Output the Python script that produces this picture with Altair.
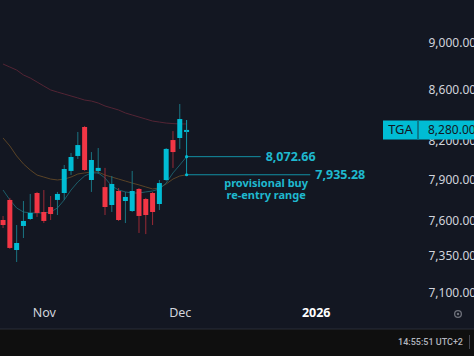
import altair as alt
import pandas as pd

# ---------------- data ----------------
idx = list(range(28))
opens  = [7602, 7748, 7389, 7559, 7609, 7799, 7660, 7696, 7748, 7799, 7964, 8078, 8303, 7896,
          7964, 7843, 7711, 7814, 7740, 7667, 7829, 7755, 7799, 7718, 7896, 8201, 8217, 8264]
highs  = [7631, 7763, 7566, 7740, 7792, 7807, 7821, 7777, 7807, 8009, 8101, 8264, 8311, 8108,
          8139, 7987, 7926, 7836, 7807, 7964, 7836, 7763, 7807, 7896, 8139, 8271, 8486, 8358]
lows   = [7544, 7396, 7305, 7473, 7602, 7624, 7580, 7602, 7638, 7748, 7934, 8055, 7964, 7807,
          7941, 7638, 7660, 7595, 7580, 7660, 7509, 7501, 7566, 7674, 7888, 7987, 8132, 8248]
closes = [7566, 7403, 7438, 7595, 7653, 7653, 7595, 7645, 7792, 7979, 8070, 8162, 7971, 8047,
          7987, 7696, 7866, 7602, 7770, 7814, 7631, 7638, 7660, 7873, 8132, 8108, 8366, 8280]

ma_long  = [8814, 8789, 8764, 8723, 8698, 8665, 8632, 8600, 8583, 8567, 8551, 8535, 8518, 8510,
            8494, 8470, 8454, 8438, 8414, 8398, 8382, 8366, 8350, 8342, 8334, 8330, 8327, 8327]
ma_mid   = [8217, 8155, 8078, 8017, 7971, 7933, 7918, 7903, 7896, 7903, 7918, 7941, 7949, 7956,
            7956, 7933, 7918, 7903, 7888, 7873, 7859, 7844, 7829, 7836, 7866, 7903, 7926, 7935.28]
ma_short = [7821, 7748, 7689, 7660, 7653, 7653, 7653, 7660, 7689, 7748, 7821, 7881, 7926, 7949,
            7949, 7911, 7851, 7821, 7807, 7799, 7799, 7807, 7814, 7829, 7873, 7949, 8009, 8072.66]

tick_idx = [6, 26, 46]
tick_labels = ["Nov", "Dec", "2026"]
y_ticks = [7100, 7350, 7600, 7900, 8200, 8600, 9000]

levels = [8072.66, 7935.28]
level_labels = ["8,072.66", "7,935.28"]
level_start = [27, 27]
level_end = [37.9, 45.2]
range_top = 8358
note_lines = ["provisional buy", "re-entry range"]
note_x = [38.7]

symbol = ["TGA"]
last_price = [8280]
last_label = ["8,280.00"]
clock = "14:55:51 UTC+2"

# ---------------- style ----------------
BG = "#131722"
UP, DOWN = "#00bcd4", "#f23645"
UP_WICK, DOWN_WICK = "#1a7482", "#9a2a36"
TXT = "#d1d4dc"
FONT = "Noto Sans"

candles = pd.DataFrame(dict(i=idx, open=opens, high=highs, low=lows, close=closes))
mas = pd.DataFrame(dict(i=idx, long=ma_long, mid=ma_mid, short=ma_short))
lv = pd.DataFrame(dict(level=levels, label=level_labels, start=level_start, end=level_end))
note = pd.DataFrame(dict(x=note_x, level=[levels[1]]))
vert = pd.DataFrame(dict(i=[level_start[0]], top=[range_top], bot=[levels[1]]))
last = pd.DataFrame(dict(sym=symbol, price=last_price, label=last_label))

label_expr = " : ".join(
    f"datum.value == {v} ? '{t}'" for v, t in zip(tick_idx[:-1], tick_labels[:-1])
) + f" : '{tick_labels[-1]}'"

X_AXIS = alt.Axis(values=tick_idx, labelExpr=label_expr, title=None, grid=False,
                  ticks=False, tickSize=0, domain=False, labelPadding=4,
                  labelFont=FONT, labelFontSize=12.5,
                  labelColor={"condition": {"test": f"datum.value == {tick_idx[-1]}", "value": "#ffffff"}, "value": TXT},
                  labelFontWeight={"condition": {"test": f"datum.value == {tick_idx[-1]}", "value": "bold"}, "value": "normal"})
Y_AXIS = alt.Axis(orient="right", values=y_ticks, format=",.2f", title=None, grid=False,
                  ticks=False, tickSize=0, domain=False, labelPadding=9, labelAlign="left",
                  labelFont=FONT, labelFontSize=12, labelColor=TXT)
XS = alt.Scale(domain=[0.287, 60.46], nice=False, zero=False)
YS = alt.Scale(type="log", domain=[7033, 9366], nice=False, zero=False)

def X(f):
    return alt.X(f, scale=XS, axis=X_AXIS)

def Y(f):
    return alt.Y(f, scale=YS, axis=Y_AXIS)

cond_wick = alt.condition("datum.close >= datum.open", alt.value(UP_WICK), alt.value(DOWN_WICK))
cond_body = alt.condition("datum.close >= datum.open", alt.value(UP), alt.value(DOWN))

base_c = alt.Chart(candles)
wicks = base_c.mark_rule(strokeWidth=1).encode(x=X("i:Q"), y=Y("low:Q"), y2="high:Q", color=cond_wick)
bodies = base_c.mark_bar(width=5).encode(x=X("i:Q"), y=Y("open:Q"), y2="close:Q", color=cond_body)

base_m = alt.Chart(mas)
l_long = base_m.mark_line(strokeWidth=1, color="#532434").encode(x=X("i:Q"), y=Y("long:Q"))
l_mid = base_m.mark_line(strokeWidth=1, color="#5a4326").encode(x=X("i:Q"), y=Y("mid:Q"))
l_short = base_m.mark_line(strokeWidth=1, color="#1c5d69").encode(x=X("i:Q"), y=Y("short:Q"))

DRAW = "#1290a4"
hlines = alt.Chart(lv).mark_rule(strokeWidth=1, color=DRAW).encode(x=X("start:Q"), x2="end:Q", y=Y("level:Q"))
vline = alt.Chart(vert).mark_rule(strokeWidth=1, color=DRAW).encode(x=X("i:Q"), y=Y("bot:Q"), y2="top:Q")
dots = alt.Chart(lv).mark_point(filled=True, size=10, color=UP, opacity=1).encode(x=X("start:Q"), y=Y("level:Q"))
lvl_text = alt.Chart(lv).mark_text(align="left", baseline="middle", dx=5, font=FONT, fontSize=12.5,
                                   fontWeight="bold", color="#1fb9cf").encode(x=X("end:Q"), y=Y("level:Q"), text="label:N")
note_text = alt.Chart(note).mark_text(text=note_lines, align="center", baseline="top", dy=3, lineHeight=12,
                                      font=FONT, fontSize=11, fontWeight="bold", color="#1fb9cf").encode(
    x=X("x:Q"), y=Y("level:Q"))

tga_box = alt.Chart(last).mark_rect(height=19, color=UP).encode(
    x=alt.value(383), x2=alt.value(474), y=Y("price:Q"))
tga_div = alt.Chart(last).mark_rect(height=19, color="#0a7d8e").encode(
    x=alt.value(417), x2=alt.value(419), y=Y("price:Q"))
tga_sym = alt.Chart(last).mark_text(align="center", baseline="middle", font=FONT, fontSize=13,
                                    color=BG).encode(x=alt.value(400.5), y=Y("price:Q"), text="sym:N")
tga_val = alt.Chart(last).mark_text(align="left", baseline="middle", font=FONT, fontSize=12,
                                    color=BG).encode(x=alt.value(428), y=Y("price:Q"), text="label:N")

deco = pd.DataFrame(dict(t=[clock]))
bar = alt.Chart(deco).mark_rect(color="#0f0f0f").encode(
    x=alt.value(0), x2=alt.value(474), y=alt.value(329), y2=alt.value(356))
bar_line = alt.Chart(deco).mark_rule(color="#2a2e39", strokeWidth=1).encode(
    x=alt.value(0), x2=alt.value(474), y=alt.value(329))
clock_txt = alt.Chart(deco).mark_text(align="right", baseline="middle", font="Roboto", fontSize=9,
                                      fontWeight=500, color="#b2b5be").encode(
    x=alt.value(463), y=alt.value(342), text="t:N")
sep = alt.Chart(deco).mark_rule(color="#434651", strokeWidth=1).encode(
    x=alt.value(469.5), y=alt.value(335), y2=alt.value(349))
gear = alt.Chart(deco).mark_point(shape="circle", size=45, filled=False, strokeWidth=1.3,
                                  color="#9598a1").encode(x=alt.value(458), y=alt.value(314))
gear_dot = alt.Chart(deco).mark_point(shape="circle", size=6, filled=True,
                                      color="#9598a1").encode(x=alt.value(458), y=alt.value(314))

chart = alt.layer(
    l_long, l_mid, l_short, wicks, bodies, hlines, vline, dots, lvl_text, note_text,
    tga_box, tga_div, tga_sym, tga_val, bar, bar_line, clock_txt, sep, gear, gear_dot
).properties(
    width=419, height=302,
    padding={"left": 0, "top": 0, "right": 55, "bottom": 54},
    autosize=alt.AutoSizeParams(type="none"),
    background=BG,
).configure_view(stroke=None, fill=BG)

chart.save("out.html", embed_options={"renderer": "svg", "actions": False})
